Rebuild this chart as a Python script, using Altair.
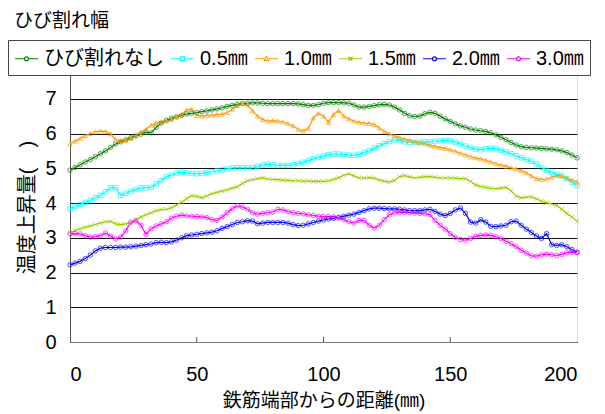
import altair as alt
import pandas as pd

FONT = "Liberation Sans, Arial, Noto Sans CJK JP"

x_mm = list(range(0, 201, 2))
series_names = ["ひび割れなし", "0.5㎜", "1.0㎜", "1.5㎜", "2.0㎜", "3.0㎜"]
series_colors = ["#008000", "#00FFFF", "#FF9900", "#99CC00", "#0000FF", "#FF00FF"]
x_ticks = [50, 100, 150]

no_crack = [
    4.95, 5.02, 5.10, 5.18, 5.25, 5.33, 5.42, 5.50, 5.60, 5.70,
    5.76, 5.82, 5.88, 5.93, 5.98, 6.04, 6.02, 6.18, 6.30, 6.38,
    6.44, 6.48, 6.52, 6.56, 6.58, 6.60, 6.63, 6.65, 6.68, 6.71,
    6.74, 6.78, 6.81, 6.84, 6.86, 6.87, 6.88, 6.88, 6.87, 6.86,
    6.86, 6.86, 6.86, 6.86, 6.86, 6.85, 6.83, 6.81, 6.81, 6.83,
    6.87, 6.89, 6.89, 6.89, 6.88, 6.87, 6.82, 6.76, 6.76, 6.78,
    6.80, 6.83, 6.84, 6.82, 6.76, 6.68, 6.58, 6.51, 6.49, 6.50,
    6.57, 6.61, 6.58, 6.50, 6.42, 6.35, 6.28, 6.22, 6.18, 6.13,
    6.10, 6.08, 6.06, 6.02, 5.96, 5.89, 5.82, 5.74, 5.67, 5.62,
    5.60, 5.59, 5.58, 5.57, 5.56, 5.55, 5.53, 5.50, 5.45, 5.38,
    5.30,
]
w05 = [
    3.83, 3.90, 3.96, 4.02, 4.08, 4.15, 4.22, 4.32, 4.44, 4.44,
    4.22, 4.28, 4.34, 4.39, 4.43, 4.44, 4.45, 4.55, 4.64, 4.76,
    4.80, 4.86, 4.88, 4.87, 4.85, 4.84, 4.85, 4.88, 4.90, 4.92,
    4.95, 4.98, 5.01, 5.02, 5.01, 5.01, 5.02, 5.05, 5.09, 5.12,
    5.10, 5.08, 5.08, 5.08, 5.10, 5.14, 5.17, 5.22, 5.27, 5.32,
    5.35, 5.39, 5.41, 5.41, 5.40, 5.38, 5.37, 5.40, 5.46, 5.50,
    5.58, 5.65, 5.71, 5.77, 5.82, 5.80, 5.76, 5.75, 5.75, 5.75,
    5.76, 5.76, 5.77, 5.79, 5.80, 5.79, 5.75, 5.70, 5.64, 5.60,
    5.55, 5.53, 5.56, 5.58, 5.57, 5.52, 5.47, 5.42, 5.36, 5.30,
    5.25, 5.20, 5.12, 5.02, 4.94, 4.88, 4.83, 4.79, 4.70, 4.60,
    4.50,
]
w10 = [
    5.70, 5.78, 5.86, 5.94, 6.00, 6.05, 6.07, 6.06, 5.99, 5.82,
    5.80, 5.80, 5.86, 5.94, 6.04, 6.12, 6.24, 6.30, 6.34, 6.36,
    6.40, 6.48, 6.55, 6.68, 6.70, 6.52, 6.50, 6.52, 6.53, 6.55,
    6.56, 6.60, 6.70, 6.80, 6.86, 6.82, 6.65, 6.50, 6.40, 6.36,
    6.37, 6.36, 6.33, 6.28, 6.22, 6.12, 6.07, 6.15, 6.45, 6.58,
    6.50, 6.32, 6.55, 6.66, 6.50, 6.42, 6.36, 6.32, 6.30, 6.29,
    6.26, 6.16, 6.06, 5.99, 5.93, 5.88, 5.84, 5.80, 5.76, 5.73,
    5.70, 5.66, 5.63, 5.60, 5.57, 5.53, 5.49, 5.43, 5.38, 5.33,
    5.30, 5.27, 5.23, 5.18, 5.13, 5.09, 5.06, 5.01, 4.98, 4.93,
    4.87, 4.78, 4.70, 4.68, 4.69, 4.74, 4.79, 4.77, 4.72, 4.66,
    4.60,
]
w15 = [
    3.15, 3.20, 3.26, 3.30, 3.34, 3.38, 3.42, 3.46, 3.47, 3.40,
    3.38, 3.40, 3.42, 3.52, 3.60, 3.66, 3.72, 3.78, 3.81, 3.82,
    3.86, 3.94, 4.02, 4.12, 4.21, 4.19, 4.15, 4.20, 4.27, 4.31,
    4.34, 4.38, 4.43, 4.47, 4.56, 4.64, 4.67, 4.70, 4.72, 4.69,
    4.68, 4.67, 4.66, 4.65, 4.64, 4.64, 4.63, 4.63, 4.62, 4.62,
    4.62, 4.64, 4.68, 4.73, 4.80, 4.84, 4.78, 4.72, 4.72, 4.73,
    4.72, 4.66, 4.63, 4.60, 4.65, 4.76, 4.79, 4.75, 4.72, 4.74,
    4.76, 4.76, 4.74, 4.72, 4.72, 4.72, 4.71, 4.70, 4.70, 4.62,
    4.52, 4.48, 4.45, 4.42, 4.41, 4.43, 4.45, 4.35, 4.20, 4.15,
    4.17, 4.18, 4.12, 4.05, 4.01, 3.97, 3.93, 3.82, 3.70, 3.60,
    3.47,
]
w20 = [
    2.22, 2.27, 2.32, 2.40, 2.50, 2.62, 2.70, 2.72, 2.72, 2.72,
    2.73, 2.73, 2.74, 2.76, 2.78, 2.80, 2.82, 2.86, 2.87, 2.86,
    2.88, 2.93, 3.00, 3.06, 3.08, 3.10, 3.12, 3.14, 3.16, 3.20,
    3.27, 3.32, 3.38, 3.44, 3.46, 3.49, 3.48, 3.40, 3.42, 3.44,
    3.44, 3.44, 3.44, 3.42, 3.38, 3.35, 3.36, 3.40, 3.44, 3.48,
    3.51, 3.54, 3.56, 3.59, 3.62, 3.65, 3.68, 3.73, 3.78, 3.83,
    3.85, 3.85, 3.84, 3.83, 3.83, 3.82, 3.80, 3.78, 3.78, 3.78,
    3.80, 3.82, 3.76, 3.68, 3.64, 3.70, 3.80, 3.86, 3.70, 3.45,
    3.42, 3.52, 3.45, 3.33, 3.32, 3.34, 3.36, 3.46, 3.48, 3.36,
    3.25, 3.15, 3.05, 2.98, 3.12, 2.80, 2.78, 2.80, 2.74, 2.66,
    2.58,
]
w30 = [
    3.11, 3.12, 3.11, 3.06, 3.02, 3.03, 3.06, 3.14, 3.05, 2.97,
    3.02, 3.20, 3.45, 3.49, 3.36, 3.09, 3.26, 3.34, 3.40, 3.46,
    3.56, 3.62, 3.65, 3.63, 3.62, 3.61, 3.60, 3.58, 3.52, 3.50,
    3.60, 3.72, 3.84, 3.92, 3.88, 3.82, 3.72, 3.68, 3.70, 3.72,
    3.74, 3.82, 3.80, 3.75, 3.72, 3.70, 3.69, 3.66, 3.64, 3.62,
    3.61, 3.61, 3.60, 3.57, 3.52, 3.46, 3.42, 3.50, 3.50, 3.36,
    3.28, 3.36, 3.52, 3.66, 3.72, 3.73, 3.73, 3.72, 3.71, 3.70,
    3.69, 3.66, 3.50, 3.36, 3.25, 3.12, 3.01, 2.95, 2.93, 2.98,
    3.04, 3.07, 3.08, 3.07, 3.03, 2.98, 2.90, 2.83, 2.74, 2.64,
    2.56, 2.48, 2.47, 2.51, 2.53, 2.51, 2.49, 2.52, 2.57, 2.58,
    2.58,
]

all_series = [no_crack, w05, w10, w15, w20, w30]
rows = []
for order, (name, vals) in enumerate(zip(series_names, all_series)):
    assert len(vals) == len(x_mm), name
    for xv, yv in zip(x_mm, vals):
        rows.append({"series": name, "legend_series": name, "ord": order, "x": xv, "y": yv})
df = pd.DataFrame(rows)
ticks_df = pd.DataFrame({"t": x_ticks})

W, H = 507, 278

point_shapes = ["circle", "square", "triangle-up", "M-1,-1L1,1M-1,1L1,-1", "circle", "circle"]
r = 0.17
circ = f"M-1,0H-{r}M{r},0H1M-{r},0A{r},{r},0,1,0,{r},0A{r},{r},0,1,0,-{r},0"
sq = f"M-1,0H-{r}M{r},0H1M-{r},-{r}H{r}V{r}H-{r}Z"
tri = "M-1,0H-0.2M0.2,0H1M0,-0.2L0.2,0.16H-0.2Z"
xx = f"M-1,0H1M-{r},-{r}L{r},{r}M-{r},{r}L{r},-{r}"
legend_shapes = [circ, sq, tri, xx, circ, circ]

x_axis = alt.Axis(
    values=[0, 50, 100, 150, 200], grid=False, ticks=False, labelOverlap=False,
    title="鉄筋端部からの距離(㎜)", labelPadding=22, labelFontSize=20,
    titleFontSize=19, titlePadding=7, domainColor="#777", labelFont=FONT,
    titleFont=FONT, titleFontWeight="normal", labelColor="black", titleColor="black",
)
y_axis = alt.Axis(
    values=list(range(0, 9)), grid=True, gridColor="#111", gridWidth=1,
    ticks=False, labelOverlap=False, title="温度上昇量(　)", labelPadding=14,
    labelFontSize=20, titleFontSize=20, titleX=-33, titleY=H / 2 + 4,
    domainColor="#555", labelFont=FONT, titleFont=FONT, titleFontWeight="normal",
    labelColor="black", titleColor="black",
)
x_scale = alt.Scale(domain=[0, 200], nice=False)
y_scale = alt.Scale(domain=[0, 8], nice=False)


def xe(field="x:Q"):
    return alt.X(field, scale=x_scale, axis=x_axis)


def ye():
    return alt.Y("y:Q", scale=y_scale, axis=y_axis)


cscale = alt.Scale(domain=series_names, range=series_colors)

legend_kwargs = dict(
    title=None, orient="none", direction="horizontal", legendX=-62, legendY=-24,
    strokeColor="#444", fillColor="white", padding=6, symbolSize=529,
    symbolStrokeWidth=1.2, symbolOpacity=1, labelFontSize=20, labelFont=FONT,
    labelColor="black", labelOffset=5, columnPadding=4, labelLimit=300,
)

base = alt.Chart(df)
lines = base.mark_line(strokeWidth=1.2).encode(
    x=xe(), y=ye(),
    color=alt.Color("series:N", scale=cscale, legend=None),
    order="x:Q",
)
points = base.mark_point(filled=False, size=20, strokeWidth=1).encode(
    x=xe(), y=ye(),
    color=alt.Color("series:N", scale=cscale, legend=None),
    shape=alt.Shape("series:N", scale=alt.Scale(domain=series_names, range=point_shapes), legend=None),
)
legend_layer = base.mark_point(opacity=0, filled=False).encode(
    x=xe(), y=ye(),
    color=alt.Color("legend_series:N", scale=alt.Scale(domain=series_names, range=series_colors),
                    legend=alt.Legend(**legend_kwargs)),
    shape=alt.Shape("legend_series:N", scale=alt.Scale(domain=series_names, range=legend_shapes),
                    legend=alt.Legend(**legend_kwargs)),
)
tick_marks = alt.Chart(ticks_df).mark_rule(color="#555").encode(
    x=xe("t:Q"), y=alt.value(H), y2=alt.value(H - 5)
)

chart = (
    alt.layer(tick_marks, lines, points, legend_layer)
    .resolve_scale(color="independent", shape="independent")
    .properties(
        width=W, height=H,
        autosize=alt.AutoSizeParams(type="none"),
        padding={"left": 62, "top": 56, "right": 20, "bottom": 70},
        title=alt.TitleParams(
            "ひび割れ幅", anchor="start", frame="group", fontSize=19, font=FONT,
            fontWeight="normal", color="black", dx=-56, offset=9,
        ),
    )
    .configure_view(stroke="#999")
    .configure(background="white")
)

chart.save("out.html", embed_options={"renderer": "svg", "actions": False})
